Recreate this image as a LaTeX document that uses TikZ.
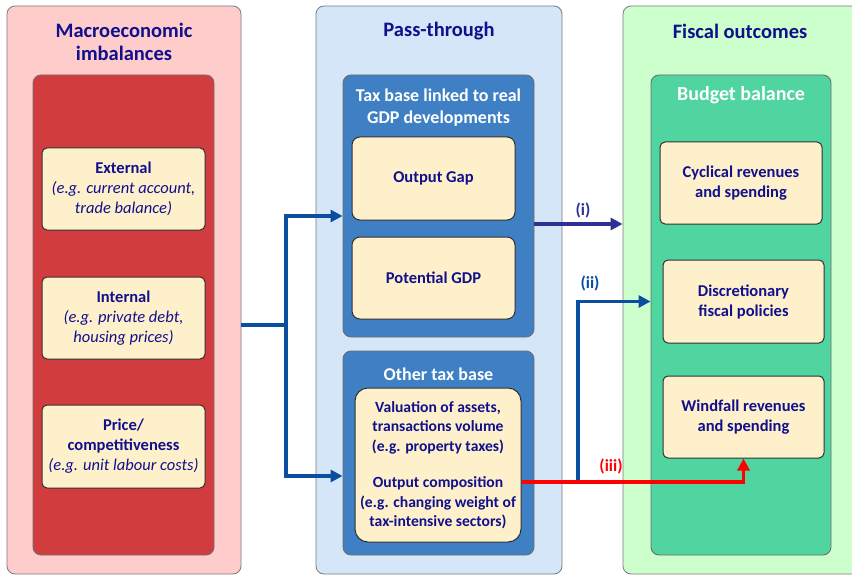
\documentclass[tikz,border=0pt]{standalone}
\usepackage{fontspec}
\setmainfont{Carlito}
\usepackage{xcolor}
\usepackage{tikz}
\usetikzlibrary{calc,arrows.meta}
\definecolor{navy}{HTML}{10108C}
\definecolor{edge}{HTML}{7A7A7A}
\definecolor{dark}{HTML}{303030}
\definecolor{pink}{HTML}{FFCCCC}
\definecolor{brick}{HTML}{D13D3F}
\definecolor{sky}{HTML}{D4E6F7}
\definecolor{steel}{HTML}{3F7FC4}
\definecolor{mint}{HTML}{CCFFCC}
\definecolor{jade}{HTML}{50D4A0}
\definecolor{cream}{HTML}{FFF0CC}
\definecolor{flowblue}{HTML}{0B4D9E}
\definecolor{indigo}{HTML}{2E3192}
\definecolor{hot}{HTML}{FF0000}
\tikzset{
  panel/.style={draw=edge, rounded corners=8pt, line width=0.8pt, inner sep=0pt},
  block/.style={draw=dark!70, rounded corners=8pt, line width=0.9pt, inner sep=0pt},
  card/.style={draw=dark, fill=cream, rounded corners=5pt, line width=1pt, inner sep=0pt,
    text=navy, align=center, font=\bfseries\fontsize{16.5}{20}\selectfont},
  head/.style={text=navy, align=center, font=\bfseries\fontsize{20.5}{23}\selectfont},
  subhead/.style={text=white, align=center, font=\bfseries\fontsize{18}{22}\selectfont},
  flow/.style={draw=flowblue, line width=3.2pt, -{Triangle[length=12pt,width=12pt]}},
  tag/.style={font=\bfseries\fontsize{17}{19}\selectfont}
}
\newcommand{\eg}[1]{{\normalfont\itshape #1}}

\begin{document}
\begin{tikzpicture}[x=1pt,y=-1pt]
  \useasboundingbox[fill=white] (0,0) rectangle (852,575);

  % three columns
  \node[panel, fill=pink, minimum width=234pt, minimum height=568pt] (macro) at (124,290) {};
  \node[panel, fill=sky,  minimum width=246pt, minimum height=568pt] (pass)  at (439,290) {};
  \node[panel, fill=mint, minimum width=247pt, minimum height=568pt] (fiscal) at (746.5,290) {};

  \node[head] (macrohead) at (124,41.5) {Macroeconomic\\imbalances};
  \node[head] (passhead) at (439,31) {Pass-through};
  \node[head] (fiscalhead) at (740,31) {Fiscal outcomes};

  % imbalances
  \node[block, fill=brick, minimum width=181pt, minimum height=480pt] (red) at (123.5,315) {};
  \node[card, minimum width=163pt, minimum height=82pt] (external) at (123.5,189)
    {External\\\eg{(e.g. current account,}\\\eg{trade balance)}};
  \node[card, minimum width=163pt, minimum height=82pt] (internal) at (123.5,318)
    {Internal\\\eg{(e.g. private debt,}\\\eg{housing prices)}};
  \node[card, minimum width=163pt, minimum height=83pt] (price) at (123.5,446.5)
    {Price/\\competitiveness\\\eg{(e.g. unit labour costs)}};

  % tax bases
  \node[block, fill=steel, minimum width=191pt, minimum height=262pt] (taxreal) at (438.5,206) {};
  \node[subhead] (taxrealhead) at (438.5,108) {Tax base linked to real\\GDP developments};
  \node[card, rounded corners=8pt, minimum width=163pt, minimum height=83pt] (gap) at (433.5,178.5) {Output Gap};
  \node[card, rounded corners=8pt, minimum width=163pt, minimum height=82pt] (potential) at (433.5,278) {Potential GDP};

  \node[block, fill=steel, minimum width=191pt, minimum height=204pt] (otherbase) at (438.5,453) {};
  \node[subhead] (otherhead) at (438.5,374) {Other tax base};
  \node[card, rounded corners=13pt, minimum width=166pt, minimum height=154pt,
    font=\bfseries\fontsize{15.6}{19.5}\selectfont] (assets) at (438,465)
    {Valuation of assets,\\transactions volume\\(e.g. property taxes)\\[17pt]
     Output composition\\(e.g. changing weight of\\tax-intensive sectors)};

  % budget
  \node[block, fill=jade, minimum width=180pt, minimum height=480pt] (budget) at (741,315) {};
  \node[subhead, font=\bfseries\fontsize{20}{22}\selectfont] (budgethead) at (741,95) {Budget balance};
  \node[card, minimum width=162pt, minimum height=82pt] (cyclical) at (741,183)
    {Cyclical revenues\\and spending};
  \node[card, minimum width=161pt, minimum height=83pt] (discretion) at (743.5,301.5)
    {Discretionary\\fiscal policies};
  \node[card, minimum width=161pt, minimum height=82pt] (windfall) at (743.5,417)
    {Windfall revenues\\and spending};

  % channels
  \coordinate (split) at (286,325);
  \draw[flow, -] (macro.east |- split) -- (split);
  \draw[flow] (split) |- ($(taxreal.west)+(0,10)$);
  \draw[flow] (split) |- ($(otherbase.west)+(0,23)$);

  \coordinate (ione) at ($(taxreal.east)+(0,18)$);
  \draw[flow, draw=indigo] (ione) -- (ione -| fiscal.west);
  \node[tag, text=indigo] (itag) at (583,210) {(i)};

  \coordinate (iitwo) at (578,481);
  \draw[flow] (iitwo) |- (budget.west |- discretion.west);
  \node[tag, text=flowblue] (iitag) at (590,283) {(ii)};

  \coordinate (iiithree) at ($(assets.east)+(0,17)$);
  \draw[flow, draw=hot] (iiithree) -| (windfall.south);
  \node[tag, text=hot] (iiitag) at (611,466) {(iii)};
\end{tikzpicture}
\end{document}
